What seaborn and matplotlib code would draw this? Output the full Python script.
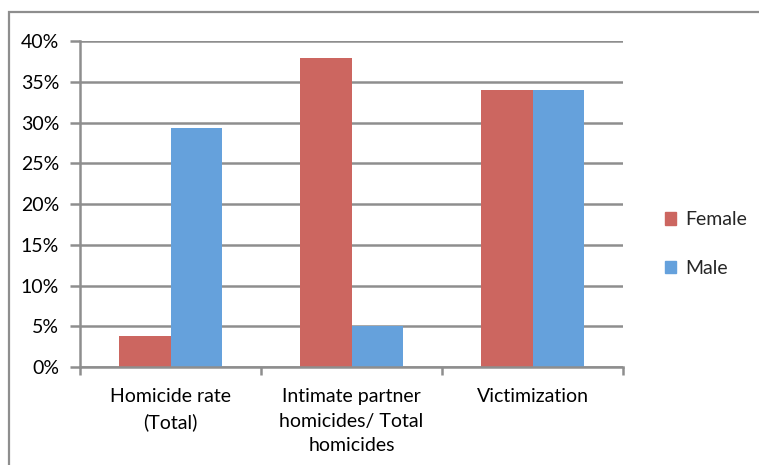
import matplotlib
matplotlib.use("Agg")
import matplotlib.pyplot as plt
import matplotlib.patches as mpatches
from matplotlib.ticker import PercentFormatter, FixedLocator
import pandas as pd
import seaborn as sns

categories = ["Homicide rate\n(Total)",
              "Intimate partner\nhomicides/ Total\nhomicides",
              "Victimization"]
female = [3.8, 37.9, 34.0]
male = [29.3, 5.0, 34.0]
series = ["Female", "Male"]
colors = ["#CC6660", "#65A1DC"]

df = pd.DataFrame({
    "category": categories * 2,
    "value": female + male,
    "sex": ["Female"] * 3 + ["Male"] * 3,
})

sns.set_style("white")
plt.rcParams["font.family"] = ["Lato", "DejaVu Sans"]

fig = plt.figure(figsize=(7.59, 4.65), dpi=100)
ax = fig.add_axes([80 / 759, 1 - 367 / 465, (623 - 80) / 759, (367 - 41) / 465])

sns.barplot(data=df, x="category", y="value", hue="sex", hue_order=series,
            palette=colors, width=0.57, gap=0, saturation=1, ax=ax,
            edgecolor="none", linewidth=0, legend=False, zorder=3)

grid_c = "#8E8E8E"
fs = 14
ax.set_ylim(0, 40)
ax.set_xlim(-0.5, 2.5)
ax.set_yticks(range(0, 41, 5))
ax.yaxis.set_major_formatter(PercentFormatter(decimals=0))
ax.yaxis.grid(True, color=grid_c, linewidth=1.8, zorder=0)
ax.set_axisbelow(True)
ax.set_xlabel("")
ax.set_ylabel("")

for side in ["top", "right"]:
    ax.spines[side].set_visible(False)
for side in ["left", "bottom"]:
    ax.spines[side].set_color(grid_c)
    ax.spines[side].set_linewidth(1.8)
    ax.spines[side].set_zorder(4)

ax.tick_params(axis="y", length=7, width=1.8, color=grid_c, direction="out",
               labelsize=fs, labelcolor="black", pad=8, left=True)
ax.tick_params(axis="x", which="major", length=0, labelsize=fs,
               labelcolor="black", pad=15)
ax.xaxis.set_minor_locator(FixedLocator([-0.5, 0.5, 1.5, 2.5]))
ax.tick_params(axis="x", which="minor", length=6, width=1.8, color=grid_c,
               direction="out", bottom=True)
for lbl in ax.get_xticklabels():
    lbl.set_linespacing(1.55)

handles = [mpatches.Patch(color=c, label=s) for c, s in zip(colors, series)]
fig.legend(handles=handles, loc="center left", bbox_to_anchor=(647 / 759, 1 - 244 / 465),
           frameon=False, fontsize=fs, handlelength=0.6, handleheight=0.6,
           handletextpad=0.45, labelspacing=1.6)

# outer chart-area frame
fig.add_artist(mpatches.Rectangle((9 / 759, -0.05), 1.2, 1 - 12 / 465 + 0.05,
                                  transform=fig.transFigure, fill=False,
                                  edgecolor="#8E8E8E", linewidth=1.6))

fig.savefig("out.png", dpi=100)
